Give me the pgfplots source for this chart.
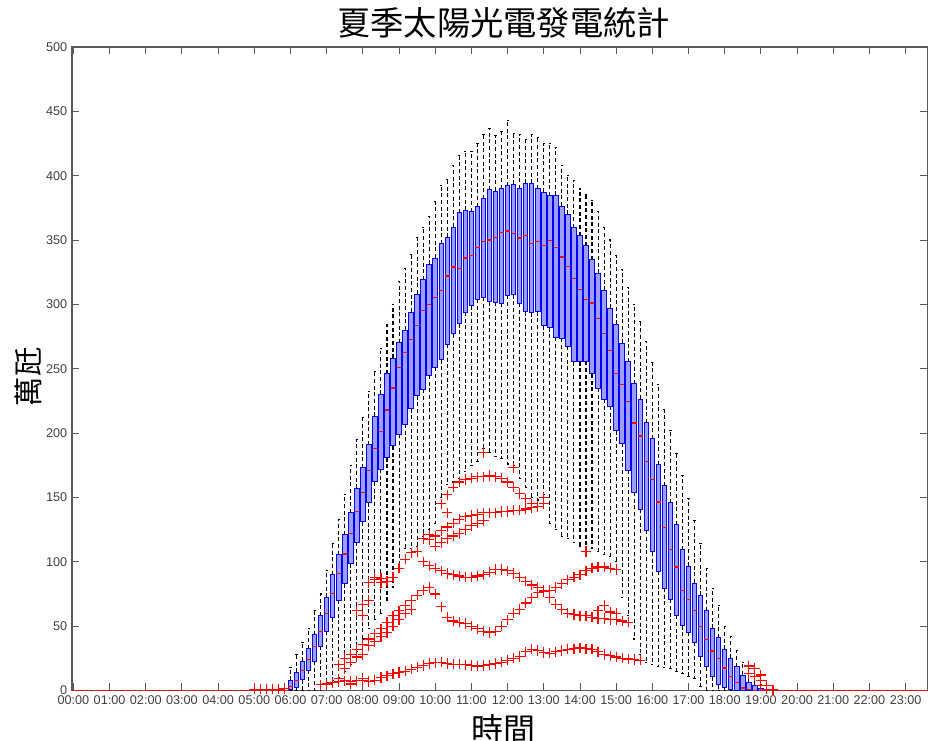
\documentclass[border=0pt]{standalone}
\usepackage{fontspec}
\setmainfont{Liberation Sans}
\newfontfamily\cjk{Noto Sans CJK TC}
\usepackage{pgfplots}
\pgfplotsset{compat=1.18}
\usepackage{pgfplotstable}
\usepgfplotslibrary{statistics}
\usetikzlibrary{calc}

% 10-minute slots, first row = 06:00
\pgfplotstableread{
x wlo q1 med q3 whi
6.0000 0 0.5 3 8 18
6.1667 0 2 8 14 28
6.3333 0 8.5 15.8 22.7 37
6.5000 0 15.8 24 32.6 48
6.6667 0 22.8 34.4 43.5 62
6.8333 0 34.4 46 58 75
7.0000 6 46 59.8 72.4 93
7.1667 8 56.7 75.3 90 114
7.3333 10 70 90.8 105.6 133
7.5000 15 83 106 121 152
7.6667 20 98.6 122 138 175
7.8333 30 115 139 157 195
8.0000 40 131 154 173 212
8.1667 48 146 171 191 232
8.3333 55 162 188 213 248
8.5000 60 172 201 230 266
8.6667 70 181 218 246 284
8.8333 80 190 235 258 300
9.0000 95 199 250.7 270 318
9.1667 110 207 262.7 280 328
9.3333 110 219 273 294 339
9.5000 112 229 283.5 308 352
9.6667 120 234 295 319 360
9.8333 125 245 300 331 368
10.0000 130 251 305.5 336 380
10.1667 150 257 310.7 347 392
10.3333 160 269 322 352 397
10.5000 162 277 329 360 408
10.6667 165 285 328 371 416
10.8333 170 294 336 373 419
11.0000 175 299 338 372 419
11.1667 178 304 344 376 425
11.3333 188 305.5 349 382 432
11.5000 185 302 350 389 437
11.6667 182 301.6 352 388 431
11.8333 180 301 356 390 434
12.0000 176 307 357 392 443
12.1667 175 307.5 355 393.4 433
12.3333 165 300.8 351.5 389.7 432
12.5000 158 294.3 353.5 394 428
12.6667 150 293.5 347.3 394 432
12.8333 148 294.3 348.6 389.7 430
13.0000 152 283.5 346 387.2 425
13.1667 130 282 349.4 384.3 425
13.3333 125 274.4 344.2 384.8 422
13.5000 120 273.5 336.8 376.4 408
13.6667 118 267.4 329.5 370 400
13.8333 115 255.4 320 359.7 396
14.0000 112 255.4 311.3 353.5 390
14.1667 112 255.7 303.6 345.6 385
14.3333 110 246 301 334.8 381
14.5000 108 234.9 289 324.2 372
14.6667 106 226.4 277.3 311 360
14.8333 104 221 264.2 297 350
15.0000 100 202 246 284.6 338
15.1667 72 192 238 269.8 327
15.3333 58 171.3 224.7 255.4 313
15.5000 40 154.2 207.9 238.2 300
15.6667 28 140.8 197.7 226.4 287
15.8333 22 124.4 177.8 207.9 271
16.0000 20 107.7 164 195.5 255
16.1667 19 92.5 146.4 175.5 238
16.3333 18 79.6 126.5 159 218
16.5000 17 70.8 109.8 145.8 202
16.6667 15 58.5 96 128.9 184
16.8333 13 50.3 77.6 109.2 167
17.0000 11 45.3 71 96.6 149
17.1667 9 37.4 62 83.4 132
17.3333 3 26.2 49.7 74 114
17.5000 0 18.3 39.4 62 95
17.6667 0 10.7 30.7 48.2 79
17.8333 0 4.3 24.8 40.9 66
18.0000 0 2 17.5 32 50
18.1667 0 1 11 25 42
18.3333 0 0 6 18.5 31
18.5000 0 0 2 12 22
18.6667 0 0 0.5 6.5 17
18.8333 0 0 0 4 11
19.0000 0 0 0 1.5 5
}\boxdata

\pgfplotstableread{
x y
5.0000 1
5.1667 1
5.3333 1
5.5000 1
5.6667 1
5.8333 1.5
6.8333 4.5
7.0000 5
7.1667 6
7.3333 7
7.3333 9
7.5000 7.5
7.6667 7
7.6667 5
7.8333 7.5
8.0000 7.5
8.0000 9.5
8.1667 7
8.3333 8
8.5000 10
8.6667 11.5
8.8333 13
9.0000 14
9.1667 15
9.3333 16.5
9.5000 18
9.6667 19.5
9.8333 21
10.0000 21.5
10.1667 22
10.3333 21
10.5000 20.5
10.6667 20.5
10.8333 20
11.0000 19.5
11.1667 19
11.3333 19.5
11.5000 20
11.6667 21
11.8333 22
12.0000 23.5
12.1667 25
12.3333 26.5
12.5000 30
12.6667 32
12.8333 31
13.0000 29.5
13.1667 29
13.3333 30
13.5000 31
13.6667 32
13.8333 32.5
14.0000 33
14.1667 32.5
14.3333 32
14.5000 30
14.6667 28
14.8333 27
15.0000 26
15.1667 25
15.3333 24.5
15.5000 24
15.6667 23.5
7.3333 20
7.5000 17
7.5000 25
7.6667 22
7.6667 28
7.8333 26
7.8333 32
8.0000 28
8.0000 36
8.1667 35
8.1667 40
8.3333 38
8.3333 44
8.5000 42
8.5000 48
8.6667 45
8.6667 53
8.8333 50
8.8333 58
9.0000 55
9.0000 62
9.1667 60
9.1667 66
9.3333 63
9.3333 70
9.5000 74
9.6667 78
9.8333 80
10.0000 75
10.1667 65
10.3333 57
10.5000 54
10.6667 53
10.8333 52
11.0000 50
11.1667 48
11.3333 46
11.5000 45
11.6667 46
11.8333 50
12.0000 55
12.1667 60
12.3333 63
12.5000 68
12.6667 72
12.8333 76
13.0000 77
13.1667 72
13.3333 67
13.5000 63
13.6667 60
13.8333 59
14.0000 58
14.1667 58
14.3333 57
14.5000 56
14.6667 56
14.8333 55
15.0000 55
15.1667 54
15.3333 53
14.5000 62
14.6667 66
14.8333 61
15.0000 60
7.8333 62
8.0000 67
8.1667 70
8.0000 58
8.1667 84
8.3333 86
8.3333 88
8.5000 87
8.5000 84
8.6667 85
8.8333 88
9.0000 95
9.1667 102
9.3333 107
9.5000 108
9.6667 100
9.8333 97
10.0000 95
10.1667 93
10.3333 91
10.5000 90
10.6667 89
10.8333 88
11.0000 88
11.1667 89
11.3333 90
11.5000 92
11.6667 94
11.8333 94
12.0000 93
12.1667 91
12.3333 88
12.5000 85
12.6667 82
12.8333 80
13.0000 78
13.1667 78
13.3333 80
13.5000 83
13.6667 86
13.8333 88
14.0000 90
14.1667 93
14.1667 108
14.3333 95
14.5000 96
14.6667 96
14.8333 95
15.0000 94
9.8333 117
10.0000 120
10.1667 124
10.3333 127
10.5000 130
10.6667 133
10.8333 135
11.0000 136
11.1667 137
11.3333 138
11.5000 138
11.6667 138
11.8333 139
12.0000 139
12.1667 140
12.3333 140
12.5000 141
12.6667 142
12.8333 143
13.0000 145
13.0000 150
9.6667 118
9.8333 121
10.0000 112
10.1667 115
10.3333 118
10.3333 138
10.5000 120
10.6667 122
10.8333 125
11.0000 128
11.1667 130
11.3333 132
10.1667 145
10.3333 152
10.5000 158
10.6667 162
10.8333 164
11.0000 165
11.1667 166
11.3333 166
11.5000 167
11.6667 166
11.8333 165
12.0000 162
12.1667 158
12.3333 153
12.5000 149
12.6667 145
11.3333 185
12.1667 173
18.6667 19
18.6667 13
18.8333 17
18.8333 11
19.0000 12
19.0000 8
19.0000 4
19.1667 4
19.1667 1
19.3333 0.5
}\outliers

\pgfplotsset{
  boxplot/draw direction=y,
  boxplot/every box/.style={draw=blue, fill=blue!38, line width=0.75pt},
  boxplot/every whisker/.style={black, line width=0.8pt, dash pattern=on 3pt off 2pt},
  boxplot/every median/.style={red, line width=0.9pt},
  boxplot/box extend=0.125,
  boxplot/whisker extend=0.06,
}

\begin{document}
\begin{tikzpicture}
\pgfplotstablegetrowsof{\boxdata}
\pgfmathtruncatemacro{\nrows}{\pgfplotsretval-1}
\begin{axis}[
  name=ax,
  scale only axis,
  width=642pt, height=483pt,
  xmin=-0.04, xmax=23.6, ymin=0, ymax=500,
  clip=false,
  xtick={0,...,23},
  xticklabels={00:00,01:00,02:00,03:00,04:00,05:00,06:00,07:00,08:00,09:00,10:00,11:00,12:00,13:00,14:00,15:00,16:00,17:00,18:00,19:00,20:00,21:00,22:00,23:00},
  ytick={0,50,...,500},
  tick align=inside,
  major tick length=5.5pt,
  axis line style={black!65, line width=1pt},
  tick style={black!65, line width=0.7pt},
  tick label style={font=\fontsize{9.5}{11}\selectfont, text=black!75},
  /pgf/number format/assume math mode=true,
  title={\cjk 夏季太陽光電發電統計},
  title style={font=\fontsize{25}{28}\selectfont, at={(0.5,1)}, anchor=center, yshift=12pt, xshift=3pt, inner sep=0pt},
  xlabel={\cjk 時間},
  xlabel style={font=\fontsize{24}{28}\selectfont, at={(0.5,0)}, anchor=north, yshift=-18pt, xshift=3pt, inner sep=0pt},
  ylabel={\cjk 萬瓩},
  every axis y label/.style={at={(axis description cs:0,0.5)}, xshift=-33pt, yshift=-6pt, rotate=90, anchor=center, inner sep=0pt, font=\fontsize{22}{25}\selectfont},
]
\addplot[red, line width=0.9pt, dash pattern=on 3.4pt off 1.1pt, mark=none, forget plot] coordinates {(-0.04,0) (5.95,0)};
\addplot[red, line width=0.9pt, dash pattern=on 3.4pt off 1.1pt, mark=none, forget plot] coordinates {(19.1,0) (23.6,0)};
\pgfplotsinvokeforeach{0,...,\nrows}{
  \pgfplotstablegetelem{#1}{wlo}\of{\boxdata}\let\Wl\pgfplotsretval
  \pgfplotstablegetelem{#1}{q1}\of{\boxdata}\let\Ql\pgfplotsretval
  \pgfplotstablegetelem{#1}{med}\of{\boxdata}\let\Md\pgfplotsretval
  \pgfplotstablegetelem{#1}{q3}\of{\boxdata}\let\Qu\pgfplotsretval
  \pgfplotstablegetelem{#1}{whi}\of{\boxdata}\let\Wu\pgfplotsretval
  \edef\doplot{\noexpand\addplot[mark=none, forget plot, boxplot/draw direction=y, boxplot prepared={draw position=6+#1/6, lower whisker=\Wl, lower quartile=\Ql, median=\Md, upper quartile=\Qu, upper whisker=\Wu}] coordinates {};}
  \doplot
}
% outliers: red crosses drawn as error bars in both directions
\addplot[draw=none, mark=none, forget plot,
  error bars/.cd, x dir=both, x fixed=0.142, y dir=both, y fixed=4.0,
  error mark=none,
  error bar style={solid, draw=red, line width=0.85pt}]
  table[x=x, y=y] {\outliers};
\end{axis}
\pgfresetboundingbox
\path ($(ax.south west)+(-54pt,-37.5pt)$) rectangle ($(ax.north east)+(0.5pt,35.25pt)$);
\end{tikzpicture}
\end{document}
